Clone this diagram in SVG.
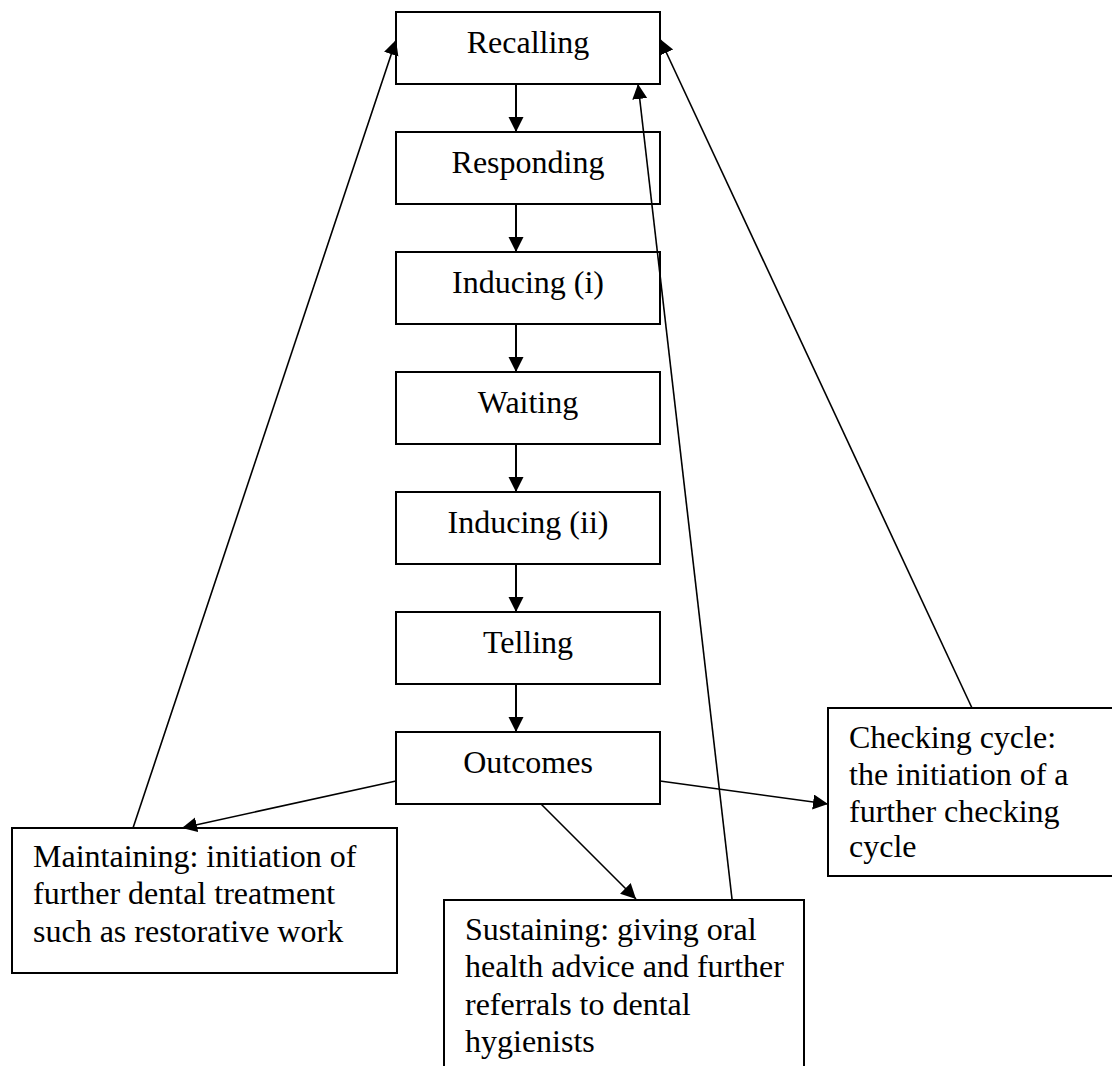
<svg xmlns="http://www.w3.org/2000/svg" width="1112" height="1066" viewBox="0 0 1112 1066">
<style>
.box{fill:#fff;stroke:#000;stroke-width:2}
.t{font-family:"Liberation Serif","Times New Roman",serif;font-size:32px;fill:#000}
.c{text-anchor:middle}
.ln{stroke:#000;stroke-width:1.6;fill:none}
.v{stroke-width:2}
</style>
<defs>
<marker id="ah" markerUnits="userSpaceOnUse" markerWidth="17" markerHeight="17" refX="15" refY="7.5" orient="auto">
<path d="M0,0 L15,7.5 L0,15 z" fill="#000"/>
</marker>
</defs>
<rect width="1112" height="1066" fill="#fff"/>
<g id="recalling"><rect class="box" x="396" y="12" width="264" height="72"/><text class="t c" x="528" y="53">Recalling</text></g>
<g id="responding"><rect class="box" x="396" y="132" width="264" height="72"/><text class="t c" x="528" y="173">Responding</text></g>
<g id="inducing1"><rect class="box" x="396" y="252" width="264" height="72"/><text class="t c" x="528" y="293">Inducing (i)</text></g>
<g id="waiting"><rect class="box" x="396" y="372" width="264" height="72"/><text class="t c" x="528" y="413">Waiting</text></g>
<g id="inducing2"><rect class="box" x="396" y="492" width="264" height="72"/><text class="t c" x="528" y="533">Inducing (ii)</text></g>
<g id="telling"><rect class="box" x="396" y="612" width="264" height="72"/><text class="t c" x="528" y="653">Telling</text></g>
<g id="outcomes"><rect class="box" x="396" y="732" width="264" height="72"/><text class="t c" x="528" y="773">Outcomes</text></g>
<g id="maintaining"><rect class="box" x="12" y="828" width="385" height="145"/>
<text class="t" x="33" y="867">Maintaining: initiation of</text>
<text class="t" x="33" y="904">further dental treatment</text>
<text class="t" x="33" y="942">such as restorative work</text></g>
<g id="sustaining"><rect class="box" x="444" y="900" width="360" height="180"/>
<text class="t" x="465" y="940">Sustaining: giving oral</text>
<text class="t" x="465" y="977">health advice and further</text>
<text class="t" x="465" y="1015">referrals to dental</text>
<text class="t" x="465" y="1052">hygienists</text></g>
<g id="checking"><rect class="box" x="828" y="708" width="300" height="168"/>
<text class="t" x="849" y="748">Checking cycle:</text>
<text class="t" x="849" y="785">the initiation of a</text>
<text class="t" x="849" y="822">further checking</text>
<text class="t" x="849" y="857">cycle</text></g>
<g id="connectors">
<line class="ln v" x1="516" y1="84" x2="516" y2="132" marker-end="url(#ah)"/>
<line class="ln v" x1="516" y1="204" x2="516" y2="252" marker-end="url(#ah)"/>
<line class="ln v" x1="516" y1="324" x2="516" y2="372" marker-end="url(#ah)"/>
<line class="ln v" x1="516" y1="444" x2="516" y2="492" marker-end="url(#ah)"/>
<line class="ln v" x1="516" y1="564" x2="516" y2="612" marker-end="url(#ah)"/>
<line class="ln v" x1="516" y1="684" x2="516" y2="732" marker-end="url(#ah)"/>
<line class="ln" x1="396" y1="781" x2="182" y2="828" marker-end="url(#ah)"/>
<line class="ln" x1="660" y1="781" x2="828" y2="804" marker-end="url(#ah)"/>
<line class="ln" x1="541" y1="804" x2="636" y2="899" marker-end="url(#ah)"/>
<line class="ln" x1="133" y1="828" x2="396" y2="40" marker-end="url(#ah)"/>
<line class="ln" x1="972" y1="708" x2="660" y2="39" marker-end="url(#ah)"/>
<line class="ln" x1="732" y1="899" x2="638" y2="84" marker-end="url(#ah)"/>
</g>
</svg>
